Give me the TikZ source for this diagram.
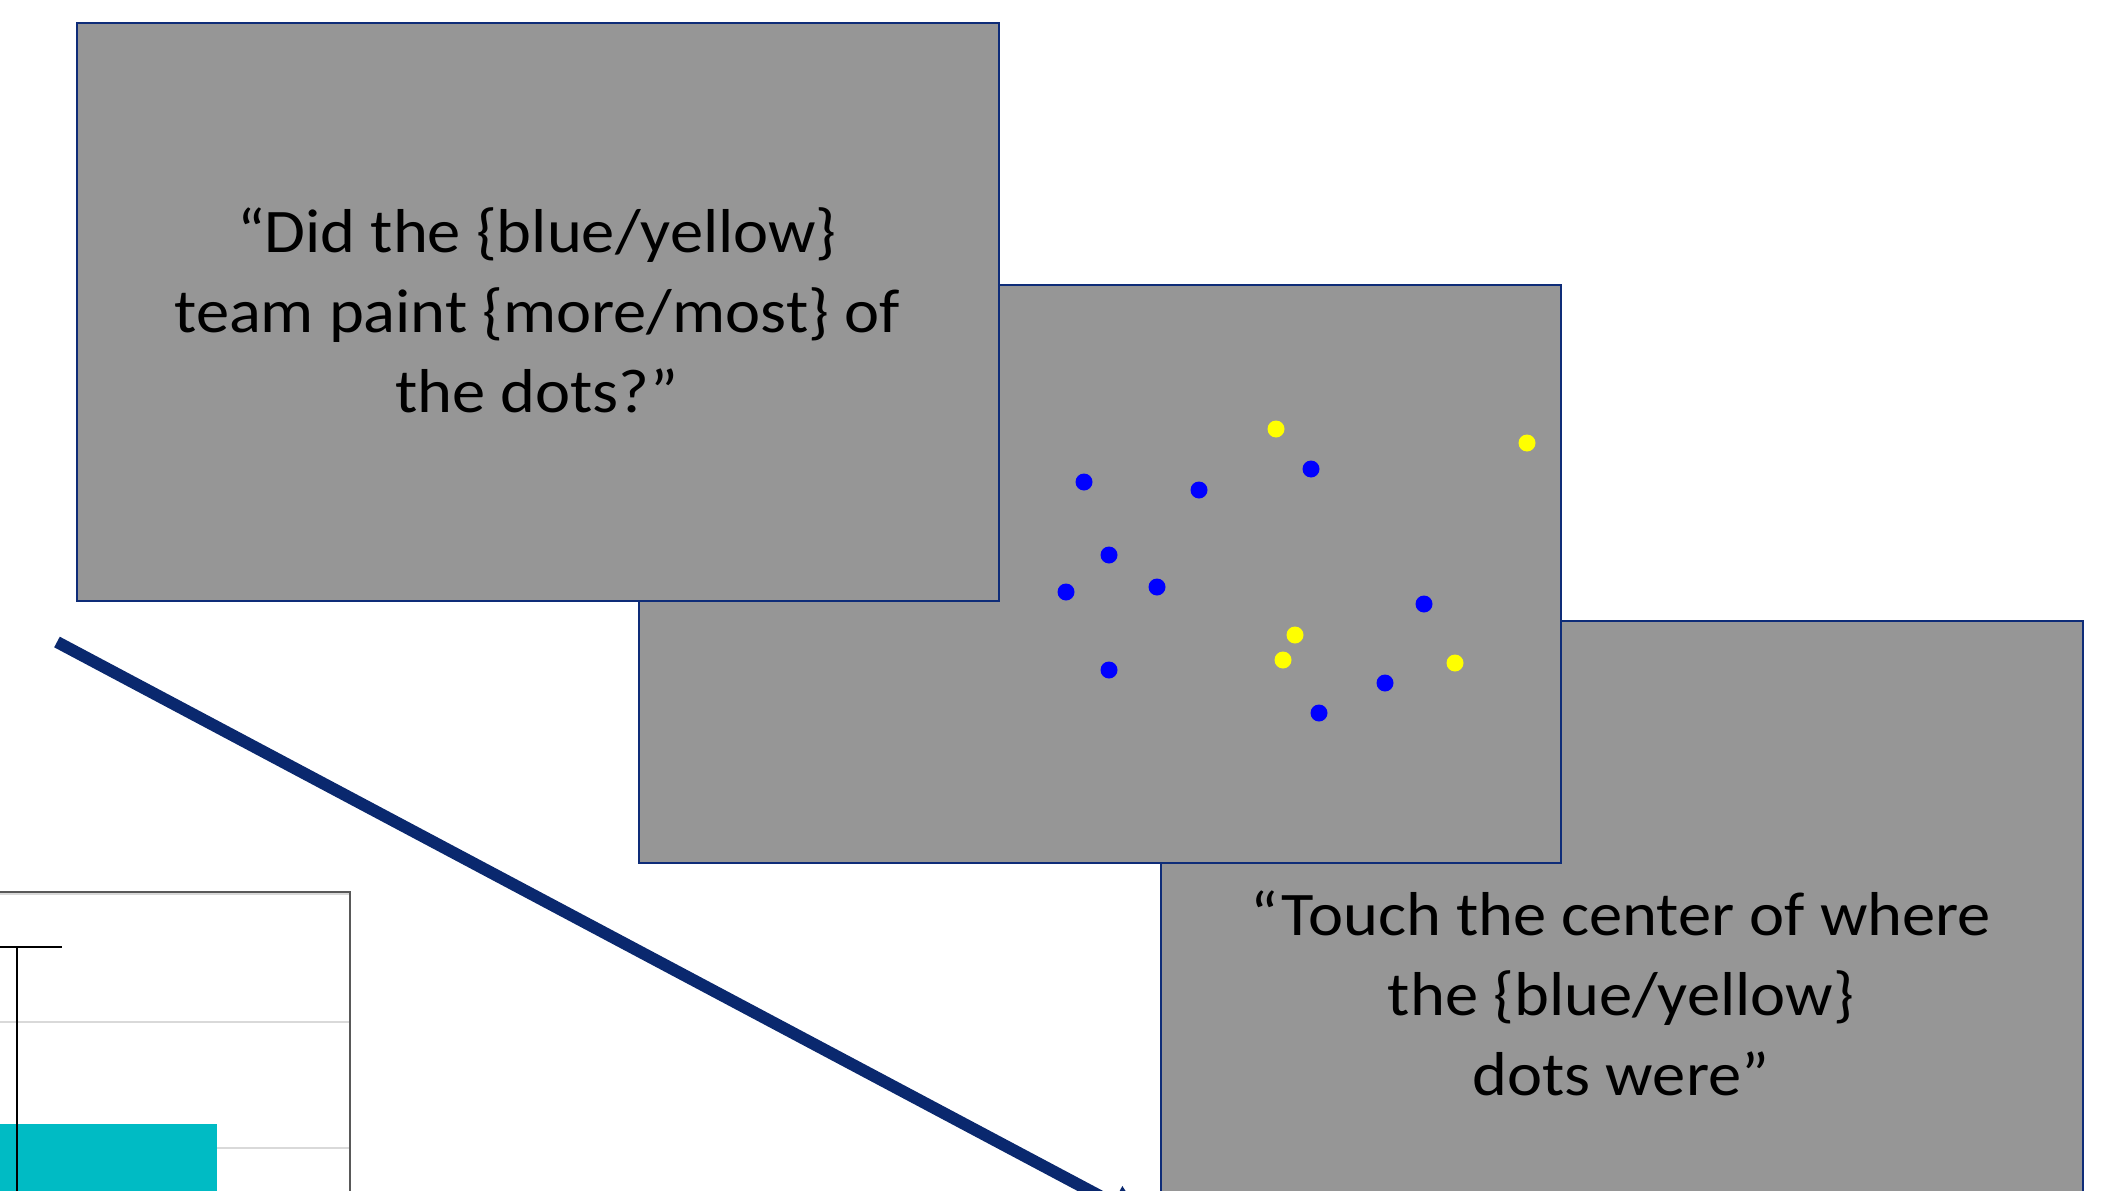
\documentclass[tikz,border=0pt]{standalone}
\usepackage{fontspec}
\setmainfont{Carlito}
\newfontfamily\promptfont[FakeStretch=1.072]{Carlito}
\usetikzlibrary{arrows.meta}
\definecolor{screengray}{RGB}{150,150,150}
\definecolor{frameblue}{RGB}{14,44,120}
\definecolor{arrowblue}{RGB}{10,40,110}
\definecolor{dotblue}{RGB}{0,0,255}
\definecolor{dotyellow}{RGB}{255,255,0}
\definecolor{barcyan}{RGB}{0,187,196}
\definecolor{gridgray}{RGB}{217,217,217}
\definecolor{axisgray}{RGB}{89,89,89}

\begin{document}
\begin{tikzpicture}[x=1pt,y=-1pt,
  screen/.style={draw=frameblue, line width=2pt, fill=screengray,
    minimum width=922pt, minimum height=578pt, anchor=north west, inner sep=0pt},
  % base anchor sits on the baseline of the last line
  prompt/.style={anchor=base, align=center, inner sep=0pt, text=black,
    font=\promptfont\fontsize{62}{80}\selectfont},
  bluedot/.style={fill=dotblue},
  yellowdot/.style={fill=dotyellow},
  flow/.style={draw=arrowblue, line width=12pt,
    -{Triangle[width=36pt,length=36pt]}},
  gridrule/.style={draw=gridgray, line width=2pt},
  errbar/.style={draw=black, line width=2.5pt},
]
\useasboundingbox (0,0) rectangle (2113,1191);
\clip (0,0) rectangle (2113,1191);

% corner of the bar chart
\draw[gridrule] (-5,894) -- (349,894);
\draw[gridrule] (-5,1022) -- (349,1022);
\draw[gridrule] (-5,1148) -- (349,1148);
\fill[barcyan] (-5,1124) rectangle (217,1200);
\draw[errbar] (17,1200) -- (17,947);
\draw[errbar] (-28,947) -- (62,947);
\draw[axisgray, line width=1.5pt] (-5,892) -- (350,892) -- (350,1200);

% response screen
\node[screen] (touch) at (1160,620) {};
\node[prompt] (touchtext) at (1621,1095)
  {“Touch the center of where\\the \{blue/yellow\}\\dots were”};

% dot display screen
\node[screen] (display) at (638,284) {};
\foreach \px/\py in {1084/482, 1199/490, 1311/469, 1109/555, 1066/592,
                     1157/587, 1424/604, 1109/670, 1385/683, 1319/713}
  \fill[bluedot] (\px,\py) circle[radius=8.5];
\foreach \px/\py in {1276/429, 1527/443, 1295/635, 1283/660, 1455/663}
  \fill[yellowdot] (\px,\py) circle[radius=8.5];

% question screen
\node[screen] (question) at (76,22) {};
\node[prompt] (questiontext) at (537,412)
  {“Did the \{blue/yellow\}\\team paint \{more/most\} of\\the dots?”};

% time arrow
\coordinate (flowstart) at (57,642);
\coordinate (flowend) at (1145,1220);
\draw[flow] (flowstart) -- (flowend);
\end{tikzpicture}
\end{document}
